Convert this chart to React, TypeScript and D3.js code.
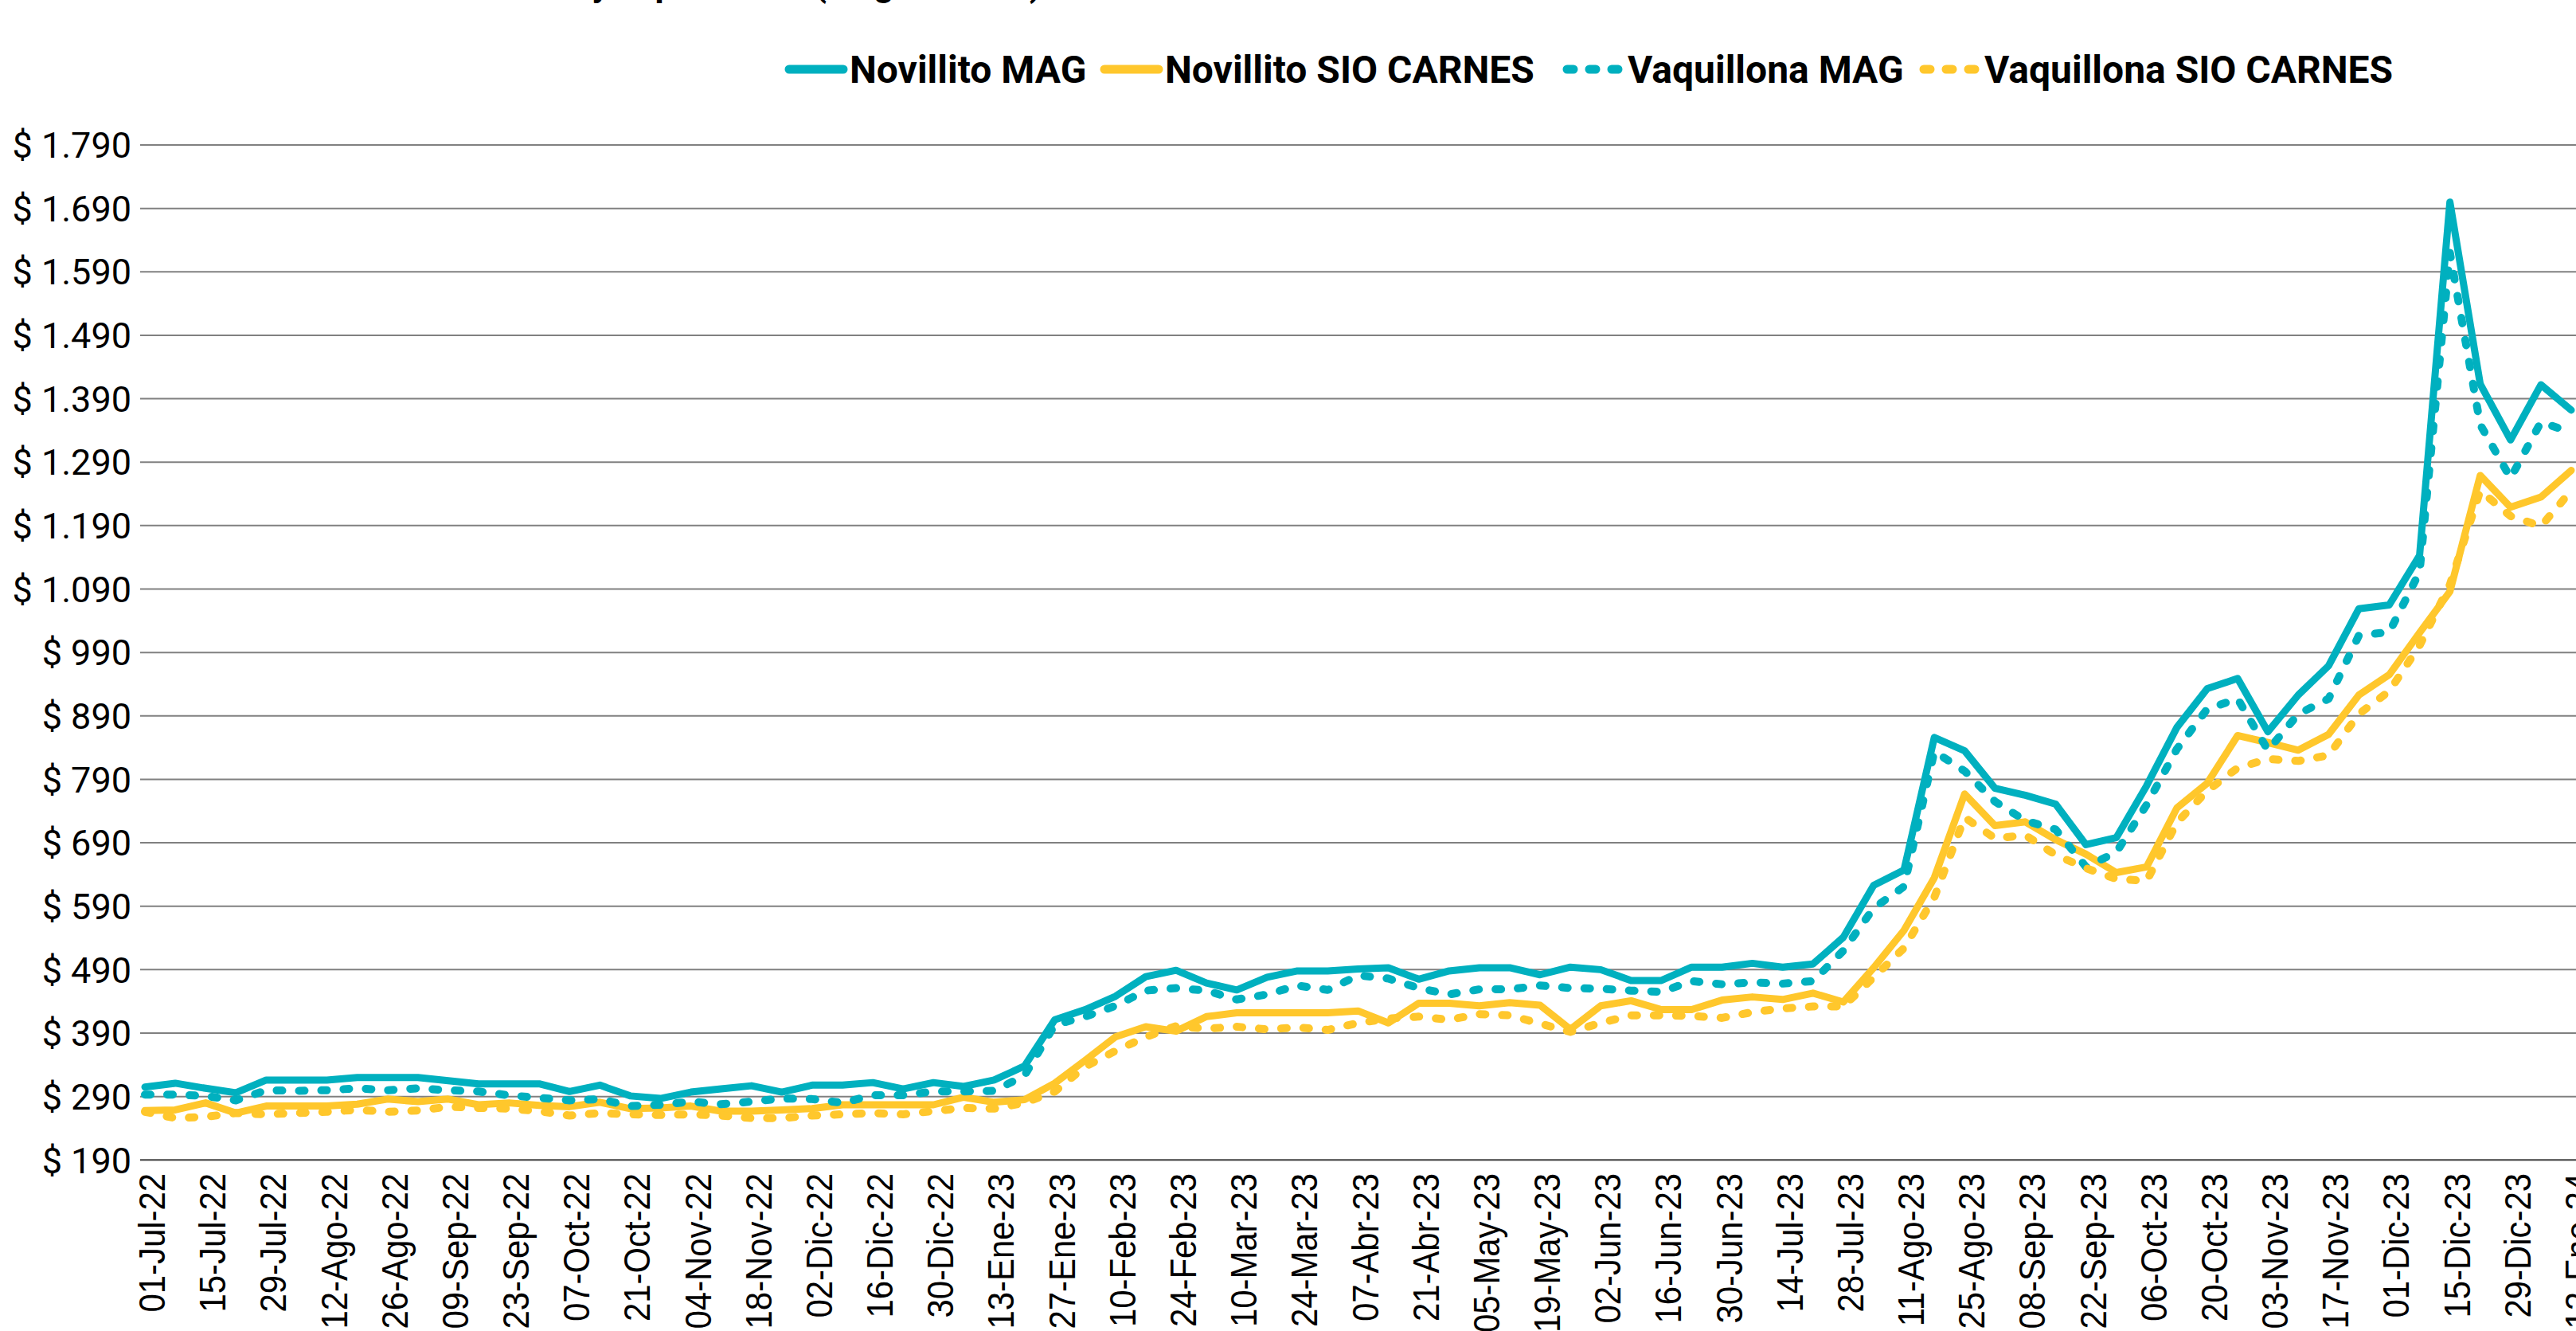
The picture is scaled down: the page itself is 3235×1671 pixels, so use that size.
import React, { useEffect, useRef } from 'react'
import * as d3 from 'd3'

// Etiquetas del eje X (cada 2 semanas)
const etiquetasX = [
  '01-Jul-22', '15-Jul-22', '29-Jul-22', '12-Ago-22', '26-Ago-22', '09-Sep-22', '23-Sep-22',
  '07-Oct-22', '21-Oct-22', '04-Nov-22', '18-Nov-22', '02-Dic-22', '16-Dic-22', '30-Dic-22',
  '13-Ene-23', '27-Ene-23', '10-Feb-23', '24-Feb-23', '10-Mar-23', '24-Mar-23', '07-Abr-23',
  '21-Abr-23', '05-May-23', '19-May-23', '02-Jun-23', '16-Jun-23', '30-Jun-23', '14-Jul-23',
  '28-Jul-23', '11-Ago-23', '25-Ago-23', '08-Sep-23', '22-Sep-23', '06-Oct-23', '20-Oct-23',
  '03-Nov-23', '17-Nov-23', '01-Dic-23', '15-Dic-23', '29-Dic-23', '12-Ene-24',
]

// Precios semanales (81 semanas)
const novillitoMAG = [
  305, 311, 303, 296, 316, 316, 316, 320, 320, 320, 315, 310, 310, 310,
  298, 308, 291, 287, 297, 302, 307, 297, 308, 308, 312, 302, 312,
  306, 316, 338, 411, 427, 448, 479, 489, 469, 458, 478, 488, 488, 491,
  493, 475, 488, 493, 493, 482, 494, 490, 473, 473, 494, 494, 500,
  494, 499, 541, 623, 647, 856, 835, 776, 765, 751, 687, 698, 780, 872,
  933, 949, 865, 923, 969, 1059, 1065, 1143, 1700, 1413, 1325, 1412, 1372,
]
const novillitoSIO = [
  268, 269, 280, 264, 275, 275, 275, 278, 286, 282, 286, 277, 280, 276,
  274, 281, 271, 272, 275, 267, 267, 269, 271, 277, 277, 277, 277,
  289, 281, 285, 311, 347, 384, 400, 393, 416, 422, 422, 422, 422, 425,
  406, 437, 437, 433, 438, 434, 396, 433, 441, 427, 427, 442, 447,
  443, 453, 439, 493, 552, 635, 767, 717, 723, 695, 672, 643, 652, 745,
  784, 859, 848, 836, 861, 923, 955, 1021, 1086, 1269, 1219, 1235, 1277,
]
const vaquillonaMAG = [
  293, 293, 291, 284, 300, 299, 300, 303, 300, 303, 300, 298, 292, 288,
  284, 286, 275, 277, 282, 278, 282, 287, 286, 280, 292, 292, 298,
  298, 299, 323, 403, 416, 433, 457, 461, 457, 443, 451, 465, 458, 481,
  476, 461, 451, 459, 459, 465, 461, 460, 457, 455, 472, 467, 470,
  468, 472, 520, 587, 621, 834, 803, 755, 725, 711, 652, 675, 750, 838,
  901, 917, 836, 893, 917, 1017, 1022, 1117, 1620, 1349, 1265, 1353, 1337,
]
const vaquillonaSIO = [
  266, 256, 258, 264, 262, 264, 266, 269, 266, 268, 274, 272, 271, 267,
  260, 264, 262, 261, 262, 260, 256, 256, 260, 262, 264, 262, 267,
  272, 271, 280, 298, 337, 362, 384, 401, 397, 400, 396, 399, 395, 406,
  413, 416, 411, 420, 418, 405, 392, 406, 418, 418, 417, 414, 423,
  429, 432, 432, 478, 524, 604, 730, 697, 702, 671, 650, 633, 630, 722,
  772, 808, 822, 819, 828, 893, 929, 1001, 1097, 1245, 1205, 1189, 1245,
]

const ticksY = [190, 290, 390, 490, 590, 690, 790, 890, 990, 1090, 1190, 1290, 1390, 1490, 1590, 1690, 1790]

const TEAL = '#00B0BF'
const AMARILLO = '#FFC72C'

const series = [
  { nombre: 'Novillito MAG', valores: novillitoMAG, color: TEAL, punteada: false, lx: 991 },
  { nombre: 'Novillito SIO CARNES', valores: novillitoSIO, color: AMARILLO, punteada: false, lx: 1387 },
  { nombre: 'Vaquillona MAG', valores: vaquillonaMAG, color: TEAL, punteada: true, lx: 1968 },
  { nombre: 'Vaquillona SIO CARNES', valores: vaquillonaSIO, color: AMARILLO, punteada: true, lx: 2416 },
]

const App = () => {
  const svgRef = useRef(null)

  useEffect(() => {
    const width = 3235
    const height = 1671
    const svg = d3.select(svgRef.current).attr('width', width).attr('height', height)
    svg.selectAll('*').remove()

    // escalas
    const x = d3.scaleLinear().domain([0, novillitoMAG.length - 1]).range([182, 3229])
    const y = d3.scaleLinear().domain([190, 1790]).range([1456.3, 182])

    const locale = d3.formatLocale({ decimal: ',', thousands: '.', grouping: [3], currency: ['$ ', ''] })
    const fmt = locale.format('$,')

    // titulo (recortado en la imagen original)
    svg
      .append('text')
      .text('Precios de consumo interno y exportación (en guaraníes)')
      .attr('x', 178)
      .attr('y', -5)
      .style('font-family', 'Roboto')
      .style('font-weight', 700)
      .style('font-size', '44px')
      .style('fill', '#000')

    // grilla horizontal
    svg
      .append('g')
      .selectAll('line')
      .data(ticksY)
      .enter()
      .append('line')
      .attr('x1', 176)
      .attr('x2', width)
      .attr('y1', (d) => y(d))
      .attr('y2', (d) => y(d))
      .style('stroke', (d) => (d === 190 ? '#404040' : '#808080'))
      .style('stroke-width', 2)

    // etiquetas eje Y
    svg
      .append('g')
      .selectAll('text')
      .data(ticksY)
      .enter()
      .append('text')
      .text((d) => fmt(d))
      .attr('x', 165)
      .attr('y', (d) => y(d))
      .attr('dy', '0.36em')
      .attr('text-anchor', 'end')
      .style('font-family', 'Roboto')
      .style('font-size', '45px')
      .style('fill', '#000')

    // etiquetas eje X (rotadas)
    svg
      .append('g')
      .selectAll('text')
      .data(etiquetasX)
      .enter()
      .append('text')
      .text((d) => d)
      .attr('transform', (d, i) => `translate(${x(i * 2) + 25}, 1473) rotate(-90) scale(0.91, 1)`)
      .attr('text-anchor', 'end')
      .style('font-family', 'Liberation Sans')
      .style('font-size', '46px')
      .style('fill', '#000')

    // lineas
    const linea = d3
      .line<number>()
      .x((d, i) => x(i))
      .y((d) => y(d))

    series.forEach((s) => {
      svg
        .append('path')
        .datum(s.valores)
        .attr('d', linea)
        .style('fill', 'none')
        .style('stroke', s.color)
        .style('stroke-width', s.punteada ? 10 : 9)
        .style('stroke-linejoin', 'round')
        .style('stroke-linecap', 'round')
        .style('stroke-dasharray', s.punteada ? '7 21' : null)
    })

    // leyenda
    const ley = svg
      .selectAll('.ley')
      .data(series)
      .enter()
      .append('g')
      .attr('class', 'ley')

    ley
      .append('line')
      .attr('x1', (d) => d.lx)
      .attr('x2', (d) => d.lx + 68)
      .attr('y1', 87)
      .attr('y2', 87)
      .style('stroke', (d) => d.color)
      .style('stroke-width', 11)
      .style('stroke-linecap', 'round')
      .style('stroke-dasharray', (d) => (d.punteada ? '8 20' : null))

    ley
      .append('text')
      .text((d) => d.nombre)
      .attr('x', (d) => d.lx + 76)
      .attr('y', 87)
      .attr('dy', '0.36em')
      .style('font-family', 'Roboto')
      .style('font-weight', 700)
      .style('font-size', '48px')
      .style('fill', '#000')
  }, [])

  return <svg ref={svgRef} style={{ position: 'absolute', left: 0, top: 0, display: 'block' }}></svg>
}

export default App
